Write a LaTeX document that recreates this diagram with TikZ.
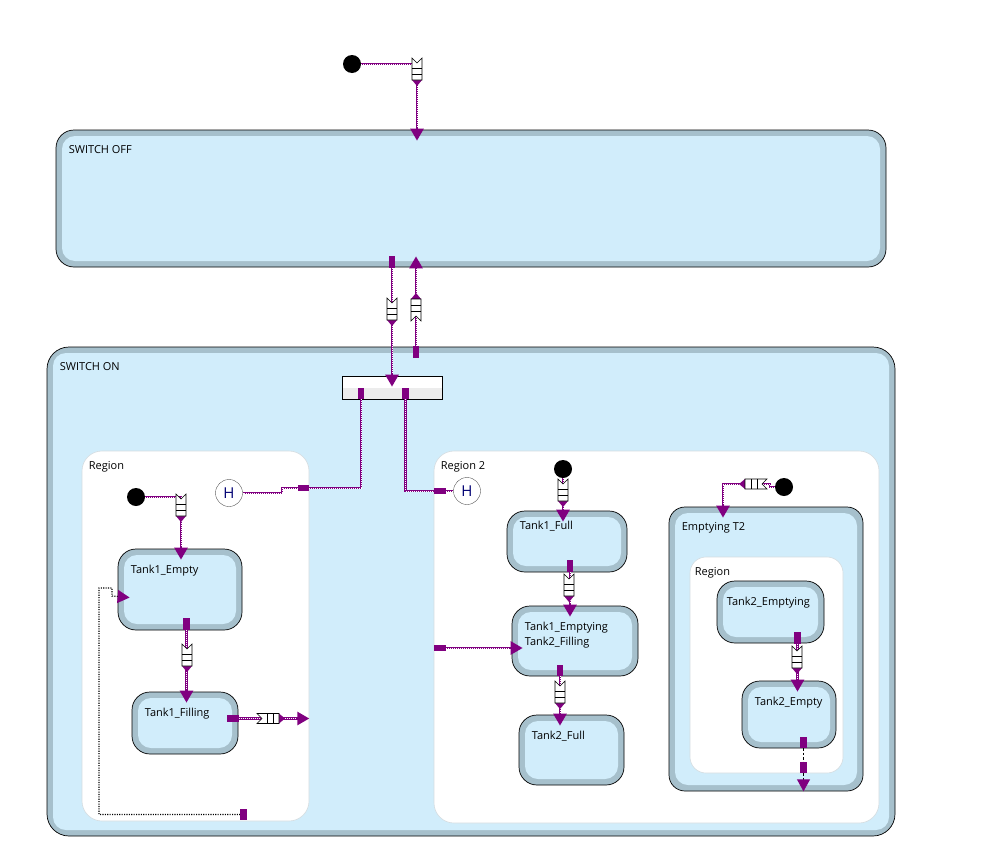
\documentclass[tikz,border=0pt]{standalone}
\usepackage{fontspec}
\setmainfont{Open Sans}
\usetikzlibrary{arrows.meta}
\usetikzlibrary{fit}
\definecolor{lila}{RGB}{128,0,128}
% Warteschlange auf einem Uebergang
\tikzset{warte/.pic={
    \fill[lila] (-5,9) -- (5,9) -- (0,15) -- cycle;
    \filldraw[fill=white,draw=black,line width=0.6pt] (-5,-13) -- (0,-8) -- (5,-13) -- (5,9) -- (-5,9) -- cycle;
    \draw[line width=0.6pt] (-5,-3) -- (5,-3) (-5,3) -- (5,3);
}}

\begin{document}
\begin{tikzpicture}[x=1pt,y=-1pt,font=\fontsize{11pt}{15pt}\selectfont]
\definecolor{rand}{RGB}{166,192,204}
\definecolor{hellblau}{RGB}{209,237,251}
\definecolor{bereichrand}{RGB}{212,220,224}
\tikzstyle{zustand}=[draw=black,fill=rand,line width=0.7pt,rounded corners=18pt,inner sep=0pt,
    path picture={\fill[hellblau,rounded corners=13pt] ([shift={(6pt,6pt)}]path picture bounding box.south west) rectangle ([shift={(-6pt,-6pt)}]path picture bounding box.north east);}]
\tikzstyle{bereich}=[draw=bereichrand,fill=white,line width=0.6pt,rounded corners=20pt,inner sep=0pt]
\tikzstyle{beschriftung}=[anchor=north west,inner sep=0pt,align=left,xshift=13pt,yshift=-16pt]
\tikzstyle{bereichname}=[anchor=north west,inner sep=0pt,xshift=7pt,yshift=-11pt]
\tikzstyle{anfang}=[circle,fill=black,minimum size=18pt,inner sep=0pt]
\tikzstyle{hist}=[circle,draw=gray!70!black,fill=white,minimum size=27pt,inner sep=0pt,text=blue!45!black,font=\fontsize{15pt}{15pt}\selectfont]
\tikzstyle{quelle}=[fill=lila,inner sep=0pt,minimum width=6pt,minimum height=11pt]
\tikzstyle{quelleH}=[quelle,minimum width=11pt,minimum height=6pt]
% lila Linie mit weissen Punkten, Spitze kommt aus der preaction
\tikzstyle{pfohne}=[draw=white,line width=0.9pt,dash pattern=on 0.9pt off 1.1pt,preaction={draw=lila,solid,line width=2.6pt}]
\tikzstyle{pf}=[pfohne,shorten >=2pt,preaction={draw=lila,solid,line width=2.6pt,-{Triangle[length=12pt,width=13pt]},shorten >=-11pt}]
\tikzstyle{pfrand}=[pfohne,shorten >=13pt,preaction={draw=lila,solid,line width=2.6pt,-{Triangle[length=12pt,width=13pt]},shorten >=0pt}]
\tikzstyle{gepunktet}=[draw=black,line width=1.1pt,dash pattern=on 1.1pt off 1.3pt,-{Triangle[length=12pt,width=13pt,color=lila]},shorten >=-12pt]
\tikzstyle{gestrichelt}=[draw=black,line width=0.8pt,dash pattern=on 2.5pt off 2pt,-{Triangle[length=12pt,width=13pt,color=lila]}]

\useasboundingbox (0,0) rectangle (1004,854);

% Hauptzustaende
\node[zustand,fit={(56,130) (886,267)},label={[beschriftung]north west:SWITCH OFF}] (off) {};
\node[zustand,rounded corners=22pt,fit={(47,347) (895,836)},label={[beschriftung]north west:SWITCH ON}] (on) {};
\node[draw=black,fill=white,line width=0.7pt,inner sep=0pt,fit={(342,376) (442,399)},
    path picture={\fill[gray!15] (path picture bounding box.west) rectangle (path picture bounding box.south east);}] (gabel) {};

\node[bereich,fit={(82,451) (309,821)},label={[bereichname]north west:Region}] (reg1) {};
\node[bereich,fit={(434,451) (879,823)},label={[bereichname]north west:Region 2}] (reg2) {};

% Region
\node[zustand,fit={(118,549) (242,630)},label={[beschriftung]north west:Tank1\_Empty}] (t1e) {};
\node[zustand,fit={(132,692) (238,754)},label={[beschriftung]north west:Tank1\_Filling}] (t1f) {};

% Region 2
\node[zustand,fit={(507,511) (627,572)},label={[beschriftung,yshift=6pt]north west:Tank1\_Full}] (t1full) {};
\node[zustand,fit={(512,606) (638,676)},label={[beschriftung]north west:Tank1\_Emptying\\Tank2\_Filling}] (t1emp) {};
\node[zustand,fit={(519,715) (624,785)},label={[beschriftung]north west:Tank2\_Full}] (t2full) {};
\node[zustand,rounded corners=16pt,fit={(669,507) (863,791)},label={[beschriftung]north west:Emptying T2}] (empt2) {};
\node[bereich,rounded corners=16pt,fit={(690,557) (843,773)},label={[bereichname,xshift=-2pt]north west:Region}] (reg3) {};
\node[zustand,fit={(717,581) (824,643)},label={[beschriftung,xshift=-3pt]north west:Tank2\_Emptying}] (t2emp) {};
\node[zustand,fit={(742,681) (836,748)},label={[beschriftung]north west:Tank2\_Empty}] (t2empty) {};

% Pseudozustaende
\node[anfang] (init0) at (352,64) {};
\node[anfang] (init1) at (136,497) {};
\node[anfang] (init2) at (563,469) {};
\node[anfang] (init3) at (784,487) {};
\node[hist] (h1) at (229,493) {H};
\node[hist] (h2) at (467,491) {H};

% Quellen der Uebergaenge
\node[quelle] (m1) at (392,262) {};
\node[quelle] (m2) at (416,352) {};
\node[quelle] (m3) at (361,393.5) {};
\node[quelleH] (m4) at (303.5,488) {};
\node[quelle] (m5) at (405.5,393.5) {};
\node[quelleH] (m6) at (440,491) {};
\node[quelle] (m7) at (186.5,624) {};
\node[quelleH] (m8) at (233,718.5) {};
\node[quelle] (m9) at (243.5,814.5) {};
\node[quelle] (m10) at (570,566) {};
\node[quelleH] (m11) at (440,648) {};
\node[quelle] (m12) at (560,670.5) {};
\node[quelle] (m13) at (797.5,638) {};
\node[quelle] (m14) at (803.5,742.5) {};
\node[quelle] (m15) at (803.5,767.5) {};

\coordinate (q0) at (417,71);
\coordinate (q1) at (392,311);
\coordinate (q2) at (416,308);
\coordinate (q3) at (181,507);
\coordinate (q4) at (187,657);
\coordinate (q5) at (270,718.5);
\coordinate (q6) at (563,492);
\coordinate (q7) at (569,587);
\coordinate (q8) at (560,694);
\coordinate (q9) at (754,484);
\coordinate (q10) at (797,659);

% Uebergaenge
\draw[pf] (init0) -| (q0) -- (q0 |- off.north);
\draw[pf] (m1) -- (m1 |- gabel.north);
\draw[pf] (m2) -- (m2 |- off.south);
\draw[pfohne] (m3) |- (m4) -- (282,488) |- (h1);
\draw[pfohne] (m5) |- (m6) -- (h2);

\draw[pf] (init1) -| (q3) -- (q3 |- t1e.north);
\draw[pf] (m7) -- (m7 |- t1f.north);
\draw[pfrand] (m8) -- (m8 -| reg1.east);
\draw[gepunktet] (m9) -| (99,588) -| (112,596) -- ([yshift=-7pt]t1e.west);

\draw[pf] (init2) -- (init2 |- t1full.north);
\draw[pf] (m10) -- (m10 |- t1emp.north);
\draw[pf] (m11) -- (m11 -| t1emp.west);
\draw[pf] (m12) -- (m12 |- t2full.north);
\draw[pf] (init3) -- ++(-14,0) |- (q9) -| ([xshift=-43pt]empt2.north);
\draw[pf] (m13) -- (m13 |- t2empty.north);
\draw[gestrichelt,-] (m14) -- (m15);
\draw[gestrichelt] (m15) -- (m15 |- empt2.south);

% Warteschlangen
\pic at (q0) {warte};
\pic at (q1) {warte};
\pic[rotate=180] at (q2) {warte};
\pic at (q3) {warte};
\pic at (q4) {warte};
\pic[rotate=90] at (q5) {warte};
\pic at (q6) {warte};
\pic at (q7) {warte};
\pic at (q8) {warte};
\pic[rotate=-90] at (q9) {warte};
\pic at (q10) {warte};

% Marken wieder nach oben
\foreach \m in {m1,m2,m3,m4,m5,m6,m7,m8,m9,m10,m11,m12,m13,m14,m15}
    \fill[lila] (\m.south west) rectangle (\m.north east);
\end{tikzpicture}
\end{document}
